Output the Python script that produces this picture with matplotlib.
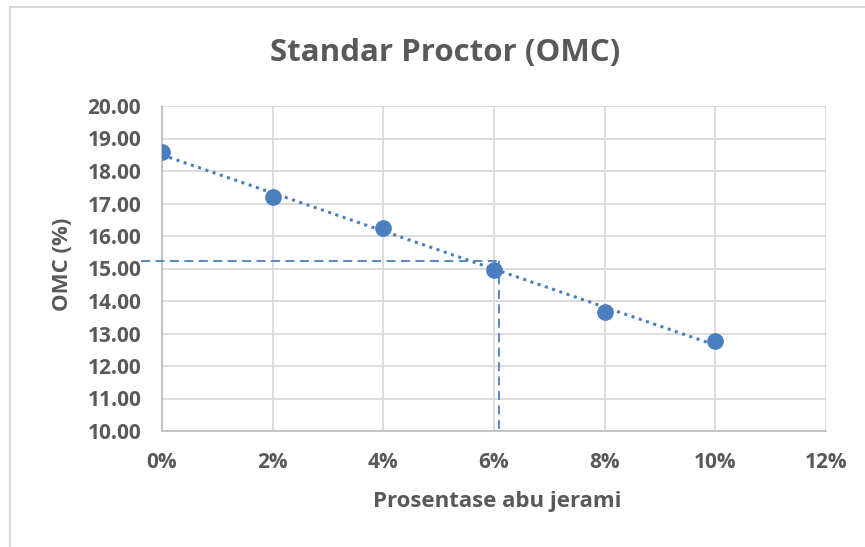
import numpy as np
import matplotlib
matplotlib.use("Agg")
import matplotlib.pyplot as plt
from matplotlib.patches import Rectangle
from matplotlib.ticker import FuncFormatter

# data
kadar_abu = [0, 2, 4, 6, 8, 10]          # % abu jerami
omc = [18.58, 17.20, 16.25, 14.95, 13.66, 12.77]
abu_opt = 6.09
omc_opt = 15.23

x_ticks = [0, 2, 4, 6, 8, 10, 12]
y_ticks = [10, 11, 12, 13, 14, 15, 16, 17, 18, 19, 20]

biru = '#4a7ebf'
abu2 = '#595959'

plt.rcParams['font.family'] = ['Open Sans', 'DejaVu Sans']

fig = plt.figure(figsize=(8.65, 5.47), dpi=100)
ax = fig.add_axes([162 / 865, 1 - 431 / 547, (826 - 162) / 865, (431 - 106) / 547])

# bingkai chart (kiri dan atas saja yang terlihat)
fig.patches.append(Rectangle((10 / 865, -0.1), 1.2, 1 - 7 / 547 + 0.1,
                             transform=fig.transFigure, fill=False,
                             edgecolor='#d9d9d9', linewidth=1.5))

# garis tren linear
k = np.polyfit(kadar_abu, omc, 1)
xt = np.array([kadar_abu[0], kadar_abu[-1]])
ax.plot(xt, np.polyval(k, xt), linestyle=(0, (1, 1.5)), color=biru,
        linewidth=2.2, zorder=3)

ax.plot(kadar_abu, omc, 'o', color=biru, markersize=11, zorder=4)

# garis bantu OMC optimum
ax.plot([-0.38, abu_opt], [omc_opt, omc_opt], '--', color=biru,
        linewidth=1.3, dashes=(5, 3), clip_on=False, zorder=3)
ax.plot([abu_opt, abu_opt], [omc_opt, 9.9], '--', color=biru,
        linewidth=1.3, dashes=(5, 3), clip_on=False, zorder=3)

ax.set_xlim(0, 12)
ax.set_ylim(10, 20)
ax.set_xticks(x_ticks)
ax.set_yticks(y_ticks)
ax.xaxis.set_major_formatter(FuncFormatter(lambda v, p: '{:.0f}%'.format(v)))
ax.yaxis.set_major_formatter(FuncFormatter(lambda v, p: '{:.2f}'.format(v)))

ax.grid(True, color='#d9d9d9', linewidth=1.3)
ax.set_axisbelow(True)
for s in ['top', 'right']:
    ax.spines[s].set_visible(False)
for s in ['left', 'bottom']:
    ax.spines[s].set_color('#bfbfbf')
    ax.spines[s].set_linewidth(1.3)
ax.tick_params(length=0, labelsize=15, labelcolor=abu2)
ax.tick_params(axis='y', pad=15)
ax.tick_params(axis='x', pad=15)
for lbl in ax.get_xticklabels() + ax.get_yticklabels():
    lbl.set_fontweight('bold')

fig.text(445 / 865, 1 - 53 / 547, 'Standar Proctor (OMC)', ha='center',
         va='center', fontsize=22.5, fontweight='bold', color=abu2)
fig.text(497 / 865, 1 - 501 / 547, 'Prosentase abu jerami', ha='center',
         va='center', fontsize=16, fontweight='bold', color=abu2)
fig.text(63 / 865, 1 - 264 / 547, 'OMC (%)', ha='center', va='center',
         rotation=90, fontsize=16, fontweight='bold', color=abu2)

fig.savefig('out.png', dpi=100, facecolor='white')
